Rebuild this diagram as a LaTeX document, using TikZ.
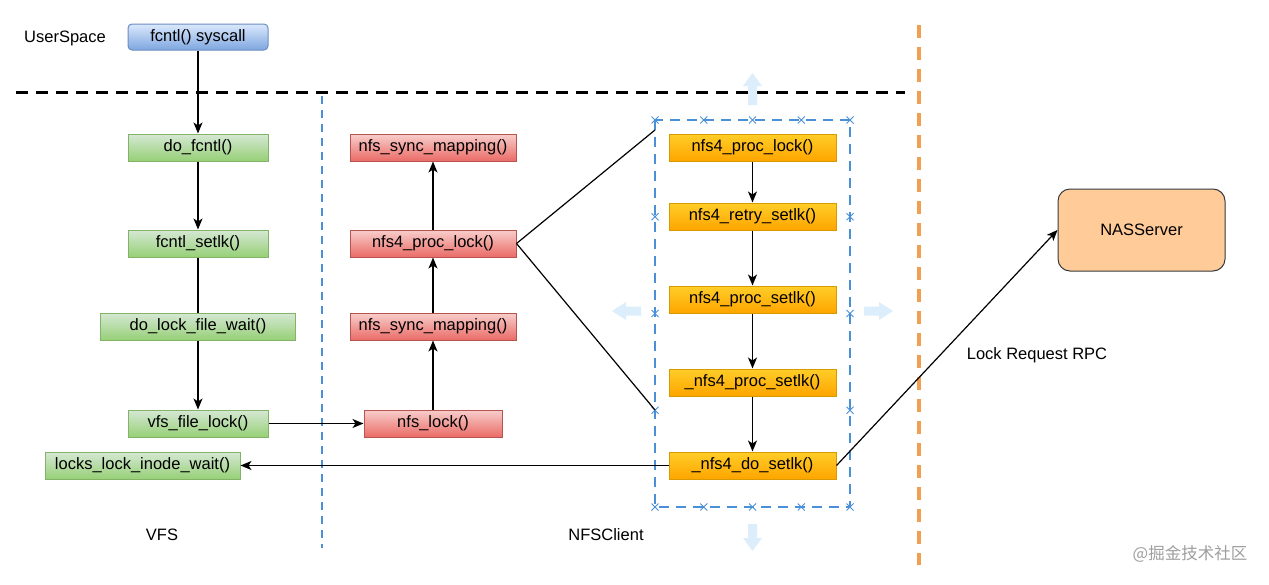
\documentclass[tikz,border=0pt]{standalone}
\usepackage{fontspec}
\setmainfont{Liberation Sans}
\newfontfamily\cjk{Noto Sans CJK SC}
\usetikzlibrary{arrows.meta}
\definecolor{blueTop}{HTML}{DAE8FC}
\definecolor{blueBot}{HTML}{7EA6E0}
\definecolor{blueBd}{HTML}{6C8EBF}
\definecolor{greenTop}{HTML}{D5E8D4}
\definecolor{greenBot}{HTML}{97D077}
\definecolor{greenBd}{HTML}{82B366}
\definecolor{redTop}{HTML}{F8CECC}
\definecolor{redBot}{HTML}{EA6B66}
\definecolor{redBd}{HTML}{B85450}
\definecolor{orTop}{HTML}{FFCD28}
\definecolor{orBot}{HTML}{FFA500}
\definecolor{orBd}{HTML}{D79B00}
\definecolor{nasFill}{HTML}{FFCC99}
\definecolor{nasBd}{HTML}{36393D}
\definecolor{selBlue}{HTML}{4A90D9}
\definecolor{sepOrange}{HTML}{F0A050}
\definecolor{ghost}{HTML}{DCEEFB}
\tikzset{
  base/.style={draw, line width=1pt, minimum height=27pt, inner sep=0pt,
    font=\fontsize{16.5}{19}\selectfont},
  userbox/.style={base, top color=blueTop, bottom color=blueBot, draw=blueBd, rounded corners=4pt, minimum width=140pt, minimum height=26pt},
  vfsbox/.style={base, top color=greenTop, bottom color=greenBot, draw=greenBd},
  nfsbox/.style={base, top color=redTop, bottom color=redBot, draw=redBd},
  nfsfourbox/.style={base, top color=orTop, bottom color=orBot, draw=orBd, minimum width=167pt},
  serverbox/.style={draw=nasBd, fill=nasFill, line width=1pt, rounded corners=12pt, minimum width=167pt, minimum height=82pt, font=\fontsize{16.5}{19}\selectfont},
  conn/.style={line width=1.5pt, -{Stealth[length=11pt,width=9pt,inset=3pt]}},
  plainconn/.style={line width=1.5pt},
  thinconn/.style={line width=1.2pt},
  lbl/.style={font=\fontsize{16.5}{19}\selectfont},
  ghostarrow/.style={fill=ghost, draw=none},
  selmark/.style={selBlue, line width=0.9pt},
}
\begin{document}
\begin{tikzpicture}[x=1pt,y=-1pt]
\useasboundingbox (0,0) rectangle (1269,584);
\fill[white] (0,0) rectangle (1269,584);

% separators
\draw[black, line width=3pt, dash pattern=on 12pt off 8pt] (16,92) -- (905,92);
\draw[selBlue, line width=2.8pt, dash pattern=on 8pt off 6pt] (322,96) -- (322,548);
\draw[sepOrange, line width=4pt, dash pattern=on 13pt off 9pt] (919,25) -- (919,565);

% labels
\node[lbl] (us) at (65,38) {UserSpace};
\node[lbl] (vfs) at (162,535) {VFS};
\node[lbl] (nfsc) at (606,535) {NFSClient};
\node[lbl] (rpc) at (1037,355) {Lock Request RPC};
\node[font=\cjk\fontsize{16.5}{19}\selectfont, text=black!38] (wm) at (1190,554) {@掘金技术社区};

% VFS column
\node[userbox] (sys) at (198,37) {fcntl() syscall};
\node[vfsbox, minimum width=140pt] (dofcntl) at (198,147.5) {do\_fcntl()};
\node[vfsbox, minimum width=140pt] (setlk) at (198,243.5) {fcntl\_setlk()};
\node[vfsbox, minimum width=195pt] (dolock) at (198,326.5) {do\_lock\_file\_wait()};
\node[vfsbox, minimum width=140pt] (vfslock) at (198,423.5) {vfs\_file\_lock()};
\node[vfsbox, minimum width=195pt] (locks) at (142.5,465.5) {locks\_lock\_inode\_wait()};

% NFS column
\node[nfsbox, minimum width=166pt] (sync1) at (433,147.5) {nfs\_sync\_mapping()};
\node[nfsbox, minimum width=166pt] (proclock) at (433,243.5) {nfs4\_proc\_lock()};
\node[nfsbox, minimum width=166pt] (sync2) at (433,326.5) {nfs\_sync\_mapping()};
\node[nfsbox, minimum width=138pt] (nfslock) at (433,423.5) {nfs\_lock()};

% NFS4 column
\node[nfsfourbox] (p4lock) at (752.5,147.5) {nfs4\_proc\_lock()};
\node[nfsfourbox] (retry) at (752.5,216.5) {nfs4\_retry\_setlk()};
\node[nfsfourbox] (psetlk) at (752.5,299.5) {nfs4\_proc\_setlk()};
\node[nfsfourbox] (upsetlk) at (752.5,382.5) {\_nfs4\_proc\_setlk()};
\node[nfsfourbox] (dosetlk) at (752.5,465.5) {\_nfs4\_do\_setlk()};

% server
\node[serverbox] (nas) at (1141.5,230) {NASServer};

% selection box
\draw[selBlue, line width=2.6pt, dash pattern=on 10pt off 7pt] (655,120) rectangle (850,507);
\foreach \x in {655,703.75,752.5,801.25,850} {
  \foreach \y in {120,507} {
    \draw[selmark] (\x-3.5,\y-3.5) -- (\x+3.5,\y+3.5) (\x-3.5,\y+3.5) -- (\x+3.5,\y-3.5);
  }
}
\foreach \y in {216.75,313.5,410.25} {
  \foreach \x in {655,850} {
    \draw[selmark] (\x-3.5,\y-3.5) -- (\x+3.5,\y+3.5) (\x-3.5,\y+3.5) -- (\x+3.5,\y-3.5);
  }
}
\coordinate (selTop) at (655,130);
\coordinate (selBot) at (655,410);

% ghost resize arrows
\fill[ghostarrow] (748,105) -- (748,86) -- (743,86) -- (752.5,73) -- (762,86) -- (757,86) -- (757,105) -- cycle;
\fill[ghostarrow] (748,524) -- (748,538) -- (743,538) -- (752.5,551) -- (762,538) -- (757,538) -- (757,524) -- cycle;
\fill[ghostarrow] (641,306.5) -- (626,306.5) -- (626,302) -- (612,311) -- (626,320) -- (626,315.5) -- (641,315.5) -- cycle;
\fill[ghostarrow] (864,306.5) -- (879,306.5) -- (879,302) -- (893,311) -- (879,320) -- (879,315.5) -- (864,315.5) -- cycle;

% connectors
\draw[conn] (sys) -- (dofcntl);
\draw[conn] (dofcntl) -- (setlk);
\draw[plainconn] (setlk) -- (dolock);
\draw[conn] (dolock) -- (vfslock);
\draw[conn] (vfslock) -- (nfslock);
\draw[conn] (nfslock) -- (sync2);
\draw[conn] (sync2) -- (proclock);
\draw[conn] (proclock) -- (sync1);
\draw[thinconn] (proclock.east) -- (selTop);
\draw[thinconn] (proclock.east) -- (selBot);
\draw[conn] (p4lock) -- (retry);
\draw[conn] (retry) -- (psetlk);
\draw[conn] (psetlk) -- (upsetlk);
\draw[conn] (upsetlk) -- (dosetlk);
\draw[conn] (dosetlk.west) -- (locks.east);
\draw[line width=1.2pt, -{Stealth[length=11pt,width=9pt,inset=3pt]}] (dosetlk.east) -- (nas.west);
\end{tikzpicture}
\end{document}
